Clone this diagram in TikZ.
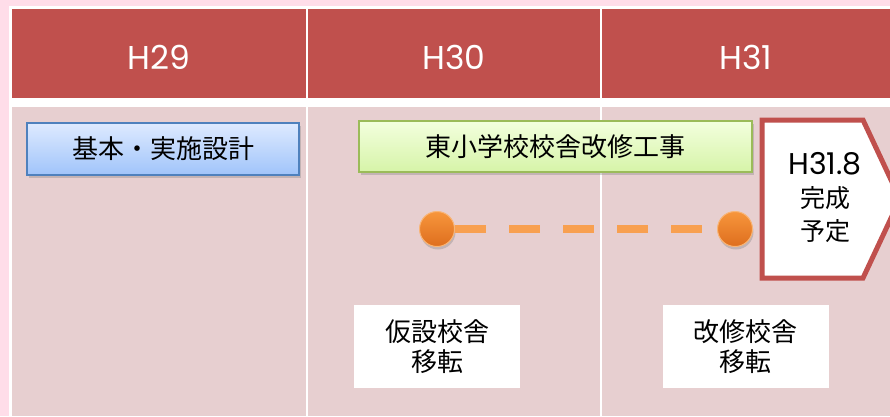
\documentclass[tikz,border=0pt]{standalone}
\usepackage{fontspec}
\setmainfont{Noto Sans CJK JP}
\newfontfamily\latinfont{Poppins}
\usetikzlibrary{shadows}
\definecolor{outerbg}{RGB}{255,221,233}
\definecolor{hdr}{RGB}{192,80,77}
\definecolor{cell}{RGB}{231,207,208}
\definecolor{bluetop}{RGB}{222,234,255}
\definecolor{bluebot}{RGB}{160,196,250}
\definecolor{blueline}{RGB}{79,129,189}
\definecolor{greentop}{RGB}{243,255,222}
\definecolor{greenbot}{RGB}{214,244,168}
\definecolor{greenline}{RGB}{155,187,89}
\definecolor{orng}{RGB}{247,150,60}
\definecolor{orngdark}{RGB}{222,110,30}

\begin{document}
\begin{tikzpicture}[x=1pt,y=-1pt,
    head/.style={fill=hdr,minimum height=89pt,inner sep=0pt,
                 text height=32pt,text depth=0pt,
                 text=white,font=\latinfont\fontsize{33}{33}\selectfont},
    bar/.style={draw,line width=1.2pt,minimum height=52pt,inner sep=0pt,
                font=\fontsize{26}{26}\selectfont,
                drop shadow={opacity=0.35,shadow xshift=2pt,shadow yshift=-3pt}},
    dot/.style={circle,minimum size=35pt,inner sep=0pt,draw=orng!70!white,
                line width=1pt,top color=orng,bottom color=orngdark,
                drop shadow={opacity=0.35,shadow xshift=1pt,shadow yshift=-3pt}},
    note/.style={fill=white,minimum width=166pt,minimum height=83pt,inner sep=0pt,
                 align=center,font=\fontsize{26}{30}\selectfont}]
    \clip (0,0) rectangle (890,416);
    \fill[outerbg] (0,0) rectangle (890,416);
    \fill[white] (9,6) rectangle (890,416);
    % header
    \node[head,minimum width=293.7pt] (h29) at (158.85,53.5) {H29};
    \node[head,minimum width=292.3pt] (h30) at (454.15,53.5) {H30};
    \node[head,minimum width=288pt]   (h31) at (746,53.5)    {H31};
    % body cells
    \fill[cell] (12,107) rectangle (305.7,416);
    \fill[cell] (307.7,107) rectangle (600,416);
    \fill[cell] (602,107) rectangle (890,416);
    % schedule bars
    \node[bar,draw=blueline,top color=bluetop,bottom color=bluebot,
          minimum width=272pt] (design) at (163,149) {基本・実施設計};
    \node[bar,draw=greenline,top color=greentop,bottom color=greenbot,
          minimum width=393pt,minimum height=51pt] (works) at (555.5,146.5)
          {東小学校校舎改修工事};
    % completion
    \draw[hdr,line width=5pt,fill=white,line join=miter]
      (762,120) -- (863,120) -- (900,199) -- (863,278) -- (762,278) -- cycle;
    \node[align=center,font=\fontsize{25}{33}\selectfont] (done) at (825,197)
      {{\latinfont\fontsize{30}{30}\selectfont H31.8}\\完成\\予定};
    % moves
    \node[dot] (m1) at (437,229) {};
    \node[dot] (m2) at (735,229) {};
    \draw[orng!90!white,line width=8pt,dash pattern=on 31pt off 23pt] (m1) -- (m2);
    \node[note] (temp) at (437,346.5) {仮設校舎\\移転};
    \node[note] (back) at (745.5,346.5) {改修校舎\\移転};
  \end{tikzpicture}
\end{document}
